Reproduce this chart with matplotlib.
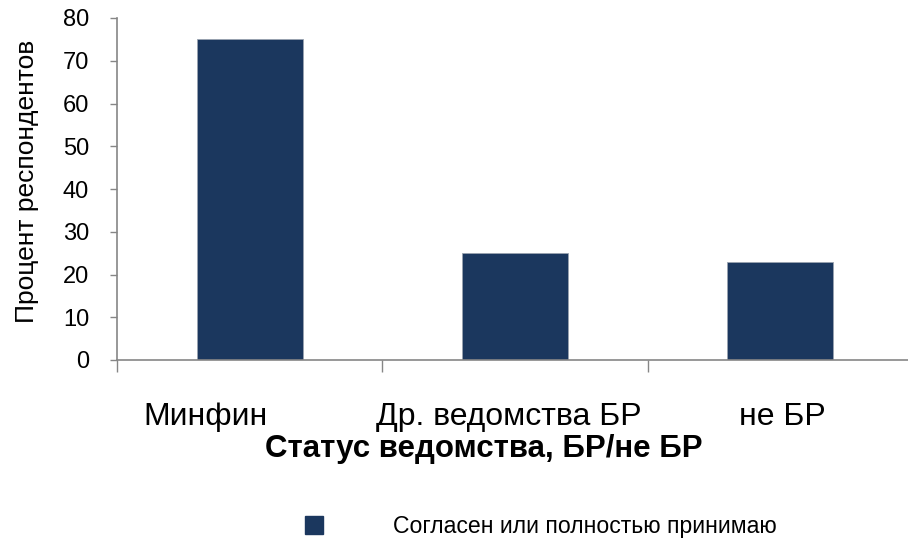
import matplotlib
matplotlib.use("Agg")
import matplotlib.pyplot as plt
from matplotlib.lines import Line2D
from matplotlib.transforms import ScaledTranslation
import numpy as np

categories = ["Минфин", "Др. ведомства БР", "не БР"]
values = [75, 25, 23]
series_name = "Согласен или полностью принимаю"
y_ticks = [0, 10, 20, 30, 40, 50, 60, 70, 80]

plt.rcParams['font.family'] = ['Liberation Sans', 'DejaVu Sans']

W, H = 908, 541
fig = plt.figure(figsize=(W / 100, H / 100), dpi=100)
ax = fig.add_axes([117 / W, (H - 360) / H, (913 - 117) / W, (360 - 18) / H])

bar_color = "#1B375E"
axis_color = "#868686"
x = np.arange(len(categories))
ax.bar(x, values, width=0.4, color=bar_color, edgecolor="#9aa3b0", linewidth=0.6, zorder=2)

ax.set_xlim(-0.5, len(categories) - 0.5)
ax.set_ylim(0, 80)
ax.set_yticks(y_ticks)
ax.set_yticklabels([str(v) for v in y_ticks], fontsize=17)

# boundaries as major ticks, labels at centers as minor ticks
ax.set_xticks(np.arange(-0.5, len(categories), 1.0))
ax.set_xticklabels([])
ax.set_xticks(x, minor=True)
ax.set_xticklabels(categories, minor=True, fontsize=23)
ax.tick_params(axis='x', which='major', length=8.6, width=1, color=axis_color, direction='out')
ax.tick_params(axis='x', which='minor', length=0, pad=30.5)
ax.tick_params(axis='y', length=5, width=1, color=axis_color, direction='out', pad=15)

# horizontal nudges of category labels (pixels), as in the reference rendering
label_shift_px = [-44, -6, 2]
for lbl, dx in zip(ax.get_xticklabels(minor=True), label_shift_px):
    lbl.set_transform(lbl.get_transform() + ScaledTranslation(dx / 100, 0, fig.dpi_scale_trans))

for s in ["top", "right"]:
    ax.spines[s].set_visible(False)
for s in ["left", "bottom"]:
    ax.spines[s].set_color(axis_color)
    ax.spines[s].set_linewidth(1.2)

ax.set_ylabel("Процент респондентов", fontsize=19, labelpad=17)
ax.yaxis.label.set_y((360 - 181.5) / (360 - 18))
ax.set_xlabel("Статус ведомства, БР/не БР", fontsize=22.5, fontweight='bold', va='baseline')
ax.xaxis.set_label_coords((484 - 117) / (913 - 117), -(457 - 360) / (360 - 18))

handle = Line2D([], [], linestyle='none', marker='s', markersize=13,
                markerfacecolor=bar_color, markeredgecolor=bar_color)
fig.legend([handle], [series_name], loc='center left',
           bbox_to_anchor=(302 / W, 1 - 527 / H), frameon=False,
           fontsize=16.6, handlelength=1.0, handletextpad=2.93,
           borderpad=0, borderaxespad=0)

fig.savefig("out.png", dpi=100)
